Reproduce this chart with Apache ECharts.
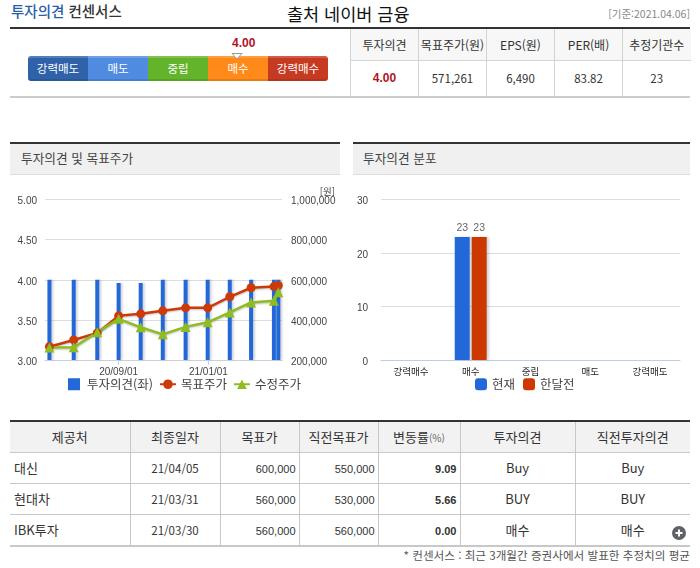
<!DOCTYPE html>
<html lang="ko"><head><meta charset="utf-8">
<script src="https://cdn.jsdelivr.net/npm/echarts@6/dist/echarts.min.js"></script>
<style>
html,body{margin:0;padding:0;background:#fff;}
body{width:700px;height:568px;position:relative;overflow:hidden;font-family:"Noto Sans CJK KR","Noto Sans",sans-serif;color:#333;font-size:12px;}
.a{position:absolute;white-space:nowrap;line-height:1;}
.ln{position:absolute;}
.seg{position:absolute;top:56px;height:25px;width:60px;text-align:center;color:#fff;font-size:11.5px;box-sizing:border-box;border-top:2px solid rgba(255,255,255,.18);border-bottom:2px solid rgba(0,0,0,.1);line-height:21px;}
table{position:absolute;border-collapse:collapse;table-layout:fixed;font-size:12px;color:#333;}
td,th{font-weight:normal;padding:0;text-align:center;overflow:hidden;white-space:nowrap;box-sizing:border-box;}
#t1 th{background:#f7f7f7;border-right:1px solid #d4d4d4;border-bottom:1px solid #d4d4d4;height:31px;}
#t1 td{border-right:1px solid #d4d4d4;height:36px;font-size:11.5px;}
#t1 th:first-child,#t1 td:first-child{border-left:1px solid #d4d4d4;}
#t1 th:last-child,#t1 td:last-child{border-right:0;}
#t2 th{background:#f2f2f2;border-right:1px solid #c8c8c8;border-bottom:1px solid #c8c8c8;height:30px;font-size:13px;}
#t2 td{border-right:1px solid #c8c8c8;border-bottom:1px solid #c8c8c8;height:31px;font-size:13px;}
#t2 th:last-child,#t2 td:last-child{border-right:0;}
#t2 .num{text-align:right;padding-right:3px;font-family:"Liberation Sans",sans-serif;font-size:11px;padding-top:3px;}
#t2 .dt{font-size:11.5px;}
#t2 .lf{text-align:left;padding-left:4px;}
.phead{position:absolute;top:144px;height:30px;background:#f0f0f0;border-bottom:1px solid #ddd;box-sizing:content-box;}
#c1,#c2{position:absolute;top:175px;height:225px;}
#c1{left:10px;width:335px;}
#c2{left:353px;width:337px;}
</style></head><body>
<div class="a" style="left:11px;top:4px;font-size:14.5px;font-weight:500;"><span style="color:#2a5ea8">투자의견</span> <span style="color:#333">컨센서스</span></div>
<div class="a" style="left:287px;top:5px;font-size:17.5px;color:#111;">출처 네이버 금융</div>
<div class="a" style="right:10px;top:9px;font-size:10.5px;color:#888;">[기준:2021.04.06]</div>
<div class="ln" style="left:10px;top:27px;width:680px;height:2px;background:#333"></div>
<div class="ln" style="left:10px;top:96px;width:680px;height:2px;background:#ccc"></div>
<div id="gauge"></div>
<div class="a" id="gv" style="left:232px;top:36px;font:bold 12px 'Liberation Sans',sans-serif;color:#b3131f;"></div>
<svg style="position:absolute;left:231px;top:53px;z-index:2" width="12" height="7"><path d="M1 .5H11L6 6Z" fill="#fff" stroke="#999"/></svg>
<table id="t1" style="left:350px;top:29px;width:340px;"></table>
<div class="ln" style="left:10px;top:142px;width:330px;height:2px;background:#333"></div>
<div class="ln" style="left:353px;top:142px;width:337px;height:2px;background:#333"></div>
<div class="phead" style="left:10px;width:330px;"></div>
<div class="phead" style="left:353px;width:337px;"></div>
<div class="a" style="left:21px;top:152px;font-size:12.7px;color:#444">투자의견 및 목표주가</div>
<div class="a" style="left:363px;top:152px;font-size:12.7px;color:#444">투자의견 분포</div>
<div id="c1"></div><div id="c2"></div>
<table id="t2" style="left:10px;top:422px;width:680px;"></table>
<div class="ln" style="left:10px;top:420px;width:680px;height:2px;background:#333"></div>
<div class="ln" style="left:10px;top:545px;width:680px;height:2px;background:#c8c8c8"></div>
<svg style="position:absolute;left:672px;top:526px" width="14" height="14"><circle cx="7" cy="7" r="7" fill="#5f6368"/><path d="M3.5 7H10.5M7 3.5V10.5" stroke="#fff" stroke-width="2"/></svg>
<div class="a" style="right:10px;top:550px;font-size:11.6px;color:#555;">* 컨센서스 : 최근 3개월간 증권사에서 발표한 추정치의 평균</div>
<script>
const gaugeLabels=['강력매도','매도','중립','매수','강력매수'];
const gaugeColors=['#2f62a8','#4f8be0','#64b42b','#ff8a1a','#c63a22'];
const opinionScore='4.00';
const summaryHead=['투자의견','목표주가(원)','EPS(원)','PER(배)','추정기관수'];
const summaryRow=['4.00','571,261','6,490','83.82','23'];
const dates=['2020-05-30','2020-07-02','2020-08-03','2020-09-01','2020-10-01','2020-10-31','2020-12-01','2020-12-31','2021-01-30','2021-02-28','2021-03-31','2021-04-06'];
const opinion=[4,4,4,3.96,3.96,4,4,4,4,4,4,4];
const targetPrice=[266000,300000,335000,420000,430000,445000,460000,460000,515000,560000,566000,571261];
const adjPrice=[262000,263000,338000,405000,363000,328000,365000,388000,437000,487000,495000,538000];
const dateTicks=['2020-09-01','2021-01-01'];
const distCats=['강력매수','매수','중립','매도','강력매도'];
const distNow=[0,23,0,0,0];
const distPrev=[0,23,0,0,0];
const brokerHead=['제공처','최종일자','목표가','직전목표가','변동률<span style="font-size:10px;color:#666">(%)</span>','투자의견','직전투자의견'];
const brokers=[['대신','21/04/05','600,000','550,000','9.09','Buy','Buy'],['현대차','21/03/31','560,000','530,000','5.66','BUY','BUY'],['IBK투자','21/03/30','560,000','560,000','0.00','매수','매수']];
const t=s=>{const p=s.split('-').map(Number);return new Date(p[0],p[1]-1,p[2]).getTime();};
const pair=a=>dates.map((d,i)=>[t(d),a[i]]);

document.getElementById('gv').textContent=opinionScore;
document.getElementById('gauge').innerHTML=gaugeLabels.map((l,i)=>{
 const r=i==0?'border-radius:3px 0 0 3px;':i==4?'border-radius:0 3px 3px 0;':'';
 return `<div class="seg" style="left:${28+i*60}px;background:${gaugeColors[i]};${r}">${l}</div>`;}).join('');
const w1=[68,68,68,68,68];
document.getElementById('t1').innerHTML='<colgroup>'+w1.map(w=>`<col style="width:${w}px">`).join('')+'</colgroup><tr>'+summaryHead.map(h=>`<th>${h}</th>`).join('')+'</tr><tr>'+summaryRow.map((v,i)=>i==0?`<td style="color:#b3131f;font-weight:bold;font-family:'Liberation Sans';font-size:12px">${v}</td>`:`<td>${v}</td>`).join('')+'</tr>';
const w2=[120,90,79,79,82,115,115];
document.getElementById('t2').innerHTML='<colgroup>'+w2.map(w=>`<col style="width:${w}px">`).join('')+'</colgroup><tr>'+brokerHead.map(h=>`<th>${h}</th>`).join('')+'</tr>'+brokers.map(r=>'<tr>'+r.map((v,i)=>{
 const c=i==0?'lf':(i>=2&&i<=4)?'num':i==1?'dt':'';
 return `<td class="${c}"${i==4?' style="font-weight:bold"':''}>${v}</td>`;}).join('')+'</tr>').join('');

const font='"Noto Sans CJK KR","Noto Sans",sans-serif';
const tickFont={fontFamily:'"Liberation Sans Narrow","Liberation Sans",sans-serif',fontSize:10,color:'#444'};
const yLabelPad={verticalAlign:'top',lineHeight:4};
const barShadow={shadowColor:'rgba(60,70,90,.22)',shadowOffsetX:2,shadowBlur:2};
const c1=echarts.init(document.getElementById('c1'),null,{renderer:'canvas'});
c1.setOption({
 animation:false,
 grid:{left:35,right:63,top:24.5,bottom:40},
 legend:{top:198,left:53,itemGap:6,itemWidth:16,itemHeight:12,textStyle:{fontFamily:font,fontSize:12.5,color:'#444'},
  data:[{name:'투자의견(좌)',icon:'path://M0 0H12V12H0Z',itemStyle:{color:'#2268d8'}},{name:'목표주가'},{name:'수정주가'}]},
 xAxis:{type:'value',min:t('2020-05-24'),max:t('2021-04-11'),
  axisLine:{lineStyle:{color:'#c8d2de'}},axisTick:{show:true,length:5,lineStyle:{color:'#c8d2de'},customValues:dateTicks.map(t)},
  axisLabel:{customValues:dateTicks.map(t),formatter:v=>{const d=new Date(v);return String(d.getFullYear()).slice(2)+'/'+String(d.getMonth()+1).padStart(2,'0')+'/01';},margin:7,...tickFont},splitLine:{show:false}},
 yAxis:[
  {type:'value',min:3,max:5,interval:0.5,axisLine:{show:false},axisTick:{show:false},axisLabel:{formatter:v=>v.toFixed(2),margin:8,...tickFont,...yLabelPad},splitLine:{lineStyle:{color:'#ddd'}}},
  {type:'value',min:200000,max:1000000,interval:200000,name:'[원]',nameLocation:'end',nameGap:1,nameTextStyle:{fontFamily:font,fontSize:9.5,color:'#444',align:'right',padding:[0,-53,0,0]},axisLine:{show:false},axisTick:{show:false},axisLabel:{formatter:v=>v.toLocaleString('en-US'),margin:9,...tickFont,...yLabelPad},splitLine:{show:false}}
 ],
 series:[
  {name:'투자의견(좌)',type:'bar',yAxisIndex:0,barWidth:4,data:pair(opinion),itemStyle:{color:'#2268d8',...barShadow}},
  {name:'목표주가',type:'line',yAxisIndex:1,data:pair(targetPrice),symbol:'circle',symbolSize:9,lineStyle:{color:'#cc3a0a',width:2.5,shadowColor:'rgba(0,0,0,.25)',shadowOffsetY:1,shadowBlur:2},itemStyle:{color:'#cc3a0a'}},
  {name:'수정주가',type:'line',yAxisIndex:1,data:pair(adjPrice),symbol:'triangle',symbolSize:10,lineStyle:{color:'#8fbc1e',width:2.5,shadowColor:'rgba(0,0,0,.25)',shadowOffsetY:1,shadowBlur:2},itemStyle:{color:'#8fbc1e'}}
 ]
});
const barLabel={show:true,position:'top',distance:3,fontFamily:'"Liberation Sans",sans-serif',fontSize:10.5,color:'#666',formatter:p=>p.value?p.value:''};
const c2=echarts.init(document.getElementById('c2'),null,{renderer:'canvas'});
c2.setOption({
 animation:false,
 grid:{left:28,right:10,top:24.5,bottom:40},
 legend:{top:198,left:117,itemGap:8,itemWidth:12,itemHeight:12,icon:'roundRect',textStyle:{fontFamily:font,fontSize:12.5,color:'#444'},data:['현재','한달전']},
 xAxis:{type:'category',data:distCats,axisLine:{lineStyle:{color:'#c0cfe0'}},axisTick:{length:5,alignWithLabel:false,lineStyle:{color:'#c0cfe0'}},axisLabel:{margin:7,fontFamily:font,fontSize:9.5,color:'#222',interval:0}},
 yAxis:{type:'value',min:0,max:30,interval:10,axisLine:{show:false},axisTick:{show:false},axisLabel:{margin:13,...tickFont,...yLabelPad},splitLine:{lineStyle:{color:'#ddd'}}},
 series:[
  {name:'현재',type:'bar',barWidth:15,barGap:'13%',data:distNow,itemStyle:{color:'#2268d8',...barShadow},label:barLabel},
  {name:'한달전',type:'bar',barWidth:15,data:distPrev,itemStyle:{color:'#cc3800',...barShadow},label:barLabel}
 ]
});
</script></body></html>
